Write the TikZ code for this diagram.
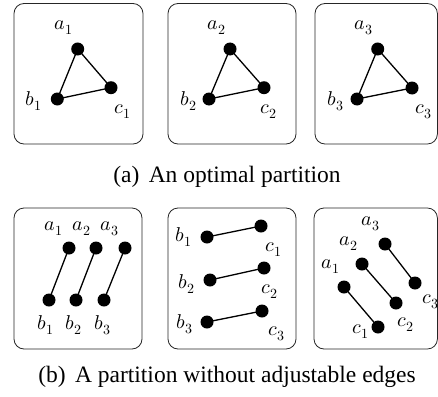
\documentclass[tikz,border=0pt]{standalone}
\usepackage{fontspec}
\usepackage{unicode-math}
\setmainfont{Liberation Serif}
\setmathfont{Latin Modern Math}
\begin{document}
\begin{tikzpicture}[x=1pt,y=-1pt,
  frame/.style={draw=black!85,line width=0.8pt,rounded corners=10pt},
  vtx/.style={circle,fill=black,inner sep=0pt,minimum size=13pt},
  lbl/.style={inner sep=0pt,font=\fontsize{20}{20}\selectfont},
  edge/.style={line width=1.3pt},
  captext/.style={inner sep=0pt,font=\fontsize{23.5}{26}\selectfont}]
\useasboundingbox (0,0) rectangle (438,396);
% frames
\draw[frame] (14,3.5) rectangle (143,144);
\draw[frame] (168,3.5) rectangle (296,144);
\draw[frame] (315,3.5) rectangle (437.4,144);
\draw[frame] (14,208) rectangle (142,349);
\draw[frame] (168,208) rectangle (296,349);
\draw[frame] (314,208) rectangle (437.4,349);
% (a) triangles
\node[vtx] (a1) at (77.7,49) {};
\node[vtx] (b1) at (57.3,99) {};
\node[vtx] (c1) at (111,87.7) {};
\node[vtx] (a2) at (230,49) {};
\node[vtx] (b2) at (209,99) {};
\node[vtx] (c2) at (264,87.7) {};
\node[vtx] (a3) at (377.7,49) {};
\node[vtx] (b3) at (357,99) {};
\node[vtx] (c3) at (412,88) {};
\draw[edge] (a1.center) -- (b1.center) -- (c1.center) -- cycle;
\draw[edge] (a2.center) -- (b2.center) -- (c2.center) -- cycle;
\draw[edge] (a3.center) -- (b3.center) -- (c3.center) -- cycle;
\node[lbl] (la1) at (64,28) {$a_1$};
\node[lbl] (lb1) at (34,101) {$b_1$};
\node[lbl] (lc1) at (123,112) {$c_1$};
\node[lbl] (la2) at (217,28) {$a_2$};
\node[lbl] (lb2) at (189,101) {$b_2$};
\node[lbl] (lc2) at (269,112) {$c_2$};
\node[lbl] (la3) at (364,28) {$a_3$};
\node[lbl] (lb3) at (336,101) {$b_3$};
\node[lbl] (lc3) at (424,112) {$c_3$};
\node[captext] (capa) at (227,177) {(a)\hspace{0.4em}An optimal partition};
% (b) box 1
\node[vtx] (p1a) at (69,248) {};
\node[vtx] (p2a) at (96,248) {};
\node[vtx] (p3a) at (125,248) {};
\node[vtx] (p1b) at (49,300) {};
\node[vtx] (p2b) at (76,300) {};
\node[vtx] (p3b) at (104,300) {};
\draw[edge] (p1a.center) -- (p1b.center);
\draw[edge] (p2a.center) -- (p2b.center);
\draw[edge] (p3a.center) -- (p3b.center);
\node[lbl] (lp1a) at (54,229) {$a_1$};
\node[lbl] (lp2a) at (82,229) {$a_2$};
\node[lbl] (lp3a) at (110,229) {$a_3$};
\node[lbl] (lp1b) at (46,325) {$b_1$};
\node[lbl] (lp2b) at (74,325) {$b_2$};
\node[lbl] (lp3b) at (103,325) {$b_3$};
% (b) box 2
\node[vtx] (q1b) at (207,237) {};
\node[vtx] (q1c) at (261,226) {};
\node[vtx] (q2b) at (210,280) {};
\node[vtx] (q2c) at (264,268) {};
\node[vtx] (q3b) at (207,322) {};
\node[vtx] (q3c) at (262,311) {};
\draw[edge] (q1b.center) -- (q1c.center);
\draw[edge] (q2b.center) -- (q2c.center);
\draw[edge] (q3b.center) -- (q3c.center);
\node[lbl] (lq1b) at (184,237) {$b_1$};
\node[lbl] (lq1c) at (274,250) {$c_1$};
\node[lbl] (lq2b) at (187,284) {$b_2$};
\node[lbl] (lq2c) at (270,292) {$c_2$};
\node[lbl] (lq3b) at (185,324) {$b_3$};
\node[lbl] (lq3c) at (277,334) {$c_3$};
% (b) box 3
\node[vtx] (r3a) at (385,244) {};
\node[vtx] (r3c) at (415,283) {};
\node[vtx] (r2a) at (362,264) {};
\node[vtx] (r2c) at (396,303) {};
\node[vtx] (r1a) at (344,287) {};
\node[vtx] (r1c) at (378,327) {};
\draw[edge] (r3a.center) -- (r3c.center);
\draw[edge] (r2a.center) -- (r2c.center);
\draw[edge] (r1a.center) -- (r1c.center);
\node[lbl] (lr3a) at (371,224) {$a_3$};
\node[lbl] (lr2a) at (349,244) {$a_2$};
\node[lbl] (lr1a) at (331,267) {$a_1$};
\node[lbl] (lr3c) at (431,302) {$c_3$};
\node[lbl] (lr2c) at (406,325) {$c_2$};
\node[lbl] (lr1c) at (361,332) {$c_1$};
\node[captext] (capb) at (227,377) {(b)\hspace{0.4em}A partition without adjustable edges};
\end{tikzpicture}
\end{document}
